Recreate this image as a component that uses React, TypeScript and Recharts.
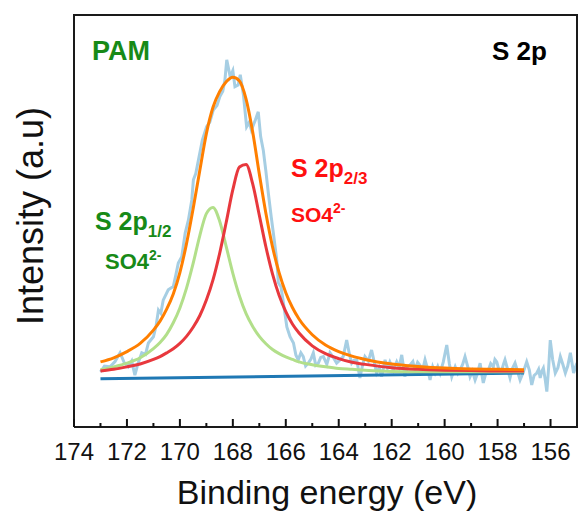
import React from "react";
import { LineChart, Line, XAxis, YAxis } from "recharts";

// raw XPS spectrum (binding energy eV, intensity a.u.)
const rawEnergy = [
  173.0, 172.85, 172.64, 172.45, 172.26, 172.1, 171.95, 171.82, 171.7, 171.58,
  171.44, 171.3, 171.19, 171.0, 170.9, 170.81, 170.72, 170.63, 170.44, 170.25,
  170.15, 170.06, 169.93, 169.8, 169.68, 169.55, 169.49, 169.4, 169.3, 169.15,
  168.99, 168.87, 168.74, 168.6, 168.49, 168.38, 168.3, 168.23, 168.1, 168.0,
  167.92, 167.8, 167.72, 167.6, 167.48, 167.38, 167.3, 167.15, 167.04, 166.95,
  166.85, 166.75, 166.66, 166.55, 166.47, 166.34, 166.28, 166.18, 166.09, 165.96,
  165.84, 165.71, 165.62, 165.53, 165.43, 165.34, 165.25, 165.15, 165.05, 164.96,
  164.87, 164.77, 164.68, 164.58, 164.45, 164.33, 164.2, 164.08, 163.95, 163.83,
  163.7, 163.6, 163.51, 163.42, 163.32, 163.2, 163.1, 163.01, 162.88, 162.76,
  162.66, 162.57, 162.47, 162.38, 162.25, 162.16, 162.07, 161.94, 161.81, 161.72,
  161.62, 161.5, 161.4, 161.31, 161.2, 161.12, 161.02, 160.93, 160.84, 160.74,
  160.64, 160.55, 160.45, 160.36, 160.26, 160.17, 160.05, 159.92, 159.82, 159.73,
  159.6, 159.5, 159.42, 159.32, 159.23, 159.12, 159.04, 158.95, 158.85, 158.76,
  158.66, 158.6, 158.54, 158.45, 158.35, 158.26, 158.16, 158.1, 158.03, 157.93,
  157.84, 157.78, 157.72, 157.62, 157.53, 157.44, 157.34, 157.25, 157.15, 157.03,
  156.9, 156.8, 156.71, 156.62, 156.52, 156.45, 156.39, 156.33, 156.27, 156.2,
  156.14, 156.07, 156.01, 155.92, 155.82, 155.72, 155.63, 155.53, 155.44, 155.35,
  155.25, 155.19, 155.13, 155.06, 155.0,
];
const rawIntensity = [
  13.4, 14.8, 14.6, 15.9, 18.0, 15.6, 14.6, 16.0, 12.6, 15.5,
  18.0, 17.6, 20.4, 21.9, 24.5, 28.4, 27.6, 30.8, 33.3, 34.1,
  37.0, 39.8, 41.3, 47.1, 50.2, 55.1, 60.0, 61.5, 64.8, 69.7,
  72.9, 74.0, 76.9, 78.0, 80.2, 81.5, 84.2, 89.1, 85.0, 86.5,
  82.6, 83.0, 85.5, 80.6, 72.9, 74.0, 72.1, 74.5, 76.5, 70.5,
  67.2, 62.0, 56.8, 51.0, 47.1, 40.5, 35.0, 34.0, 30.1, 24.3,
  21.9, 20.4, 17.5, 16.3, 18.0, 17.1, 14.8, 15.5, 16.5, 18.0,
  15.0, 15.5, 16.9, 17.1, 15.2, 18.0, 16.8, 15.5, 16.3, 17.1,
  21.1, 17.8, 15.5, 16.2, 16.3, 11.9, 15.0, 17.1, 16.0, 18.7,
  15.8, 13.1, 14.4, 12.2, 16.3, 14.3, 15.8, 13.8, 15.8, 14.5,
  17.5, 12.2, 14.8, 15.0, 15.9, 13.8, 15.7, 15.0, 13.6, 16.3,
  14.0, 11.4, 14.6, 13.1, 14.7, 13.1, 15.8, 19.9, 15.3, 12.2,
  14.6, 13.0, 13.8, 15.2, 17.1, 14.5, 12.2, 13.5, 11.4, 13.0,
  15.5, 13.0, 10.7, 12.9, 13.8, 15.4, 14.6, 16.4, 15.8, 13.4,
  13.8, 15.2, 16.3, 14.0, 11.9, 14.2, 15.5, 13.6, 11.4, 13.3,
  15.8, 13.8, 10.2, 12.5, 13.1, 14.0, 11.9, 13.5, 14.3, 11.5,
  8.6, 14.5, 21.1, 16.4, 13.1, 14.4, 17.1, 15.1, 13.1, 14.8,
  18.0, 15.6, 13.1, 14.5, 15.5,
];

// fitted components
const fitEnergy = [
  173, 172.5, 172, 171.5, 171, 170.75, 170.5, 170.25, 170, 169.75,
  169.5, 169.25, 169, 168.75, 168.5, 168.25, 168, 167.75, 167.5, 167.25,
  167, 166.75, 166.5, 166.25, 166, 165.75, 165.5, 165, 164.5, 164,
  163.5, 163, 162, 161, 160, 159, 158, 157,
];
const peakHalf = [
  13.9, 14.6, 15.5, 16.8, 19.0, 20.5, 22.5, 25.3, 28.9, 33.7,
  39.7, 46.4, 51.8, 53.3, 50.0, 43.8, 37.3, 31.8, 27.5, 24.4,
  22.0, 20.2, 18.8, 17.8, 17.0, 16.4, 15.8, 15.1, 14.6, 14.2,
  14.0, 13.8, 13.5, 13.4, 13.4, 13.4, 13.4, 13.4,
];
const peakThreeHalf = [
  13.6, 14.0, 14.6, 15.3, 16.4, 17.1, 18.0, 19.0, 20.3, 22.0,
  24.2, 27.0, 30.8, 35.7, 42.1, 49.7, 57.6, 63.1, 63.7, 59.0,
  51.4, 43.7, 37.1, 31.9, 28.0, 25.0, 22.8, 19.7, 17.8, 16.6,
  15.7, 15.2, 14.4, 14.0, 13.8, 13.7, 13.6, 13.6,
];
const envelope = [
  15.8, 16.8, 18.3, 20.3, 23.5, 25.7, 28.6, 32.3, 37.5, 44.5,
  53.0, 62.2, 71.2, 77.6, 81.4, 83.8, 84.9, 84.0, 79.6, 71.6,
  61.4, 51.8, 43.7, 37.4, 32.6, 29.0, 26.2, 22.4, 19.9, 18.3,
  17.2, 16.4, 15.3, 14.7, 14.3, 14.1, 14.0, 13.9,
];
const bgEnergy = [173, 157];
const bgIntensity = [11.7, 13.1];

const majorTicks = [174, 172, 170, 168, 166, 164, 162, 160, 158, 156];
const minorTicks = [173, 171, 169, 167, 165, 163, 161, 159, 157, 155];

const rawData = rawEnergy.map((x, i) => ({ x, y: rawIntensity[i] }));
const fitData = fitEnergy.map((x, i) => ({
  x,
  half: peakHalf[i],
  threeHalf: peakThreeHalf[i],
  env: envelope[i],
}));
const bgData = bgEnergy.map((x, i) => ({ x, y: bgIntensity[i] }));

const FONT = "'Liberation Sans', Arial, sans-serif";
const FRAME = { stroke: "#1a1a1a", strokeWidth: 2 };

const AxisTick = ({ x, y, payload }: any) => {
  const major = majorTicks.includes(payload.value);
  return (
    <g>
      <line x1={x} x2={x} y1={y} y2={y - (major ? 8 : 4)} stroke="#111" strokeWidth={2} />
      {major && (
        <text x={x} y={y + 33} textAnchor="middle" fontSize={24} fontFamily={FONT} fill="#111">
          {payload.value}
        </text>
      )}
    </g>
  );
};

const label = (style: React.CSSProperties, children: React.ReactNode) => (
  <div
    style={{
      position: "absolute",
      whiteSpace: "nowrap",
      fontFamily: FONT,
      fontWeight: 700,
      lineHeight: 1,
      ...style,
    }}
  >
    {children}
  </div>
);

export default function App() {
  const green = "#178a17";
  const red = "#ff1010";
  return (
    <div style={{ position: "relative", width: 579, height: 512, overflow: "hidden" }}>
      <style>{"html, body { margin: 0; padding: 0; overflow: hidden; }"}</style>
      <LineChart width={579} height={512} margin={{ top: 14, right: 1, left: 73, bottom: 0 }}>
        <XAxis
          type="number"
          dataKey="x"
          domain={[155, 174]}
          reversed
          allowDataOverflow
          ticks={[...majorTicks, ...minorTicks].sort((a, b) => b - a)}
          interval={0}
          height={85}
          axisLine={FRAME}
          tickLine={false}
          tickSize={0}
          tickMargin={0}
          tick={<AxisTick />}
        />
        <XAxis xAxisId="top" orientation="top" type="number" domain={[155, 174]} reversed
          height={1} tick={false} tickLine={false} axisLine={FRAME} />
        <YAxis domain={[0, 100]} allowDataOverflow width={1} tick={false} tickLine={false} axisLine={FRAME} />
        <YAxis yAxisId="right" orientation="right" domain={[0, 100]} width={1}
          tick={false} tickLine={false} axisLine={FRAME} />
        <Line data={rawData} dataKey="y" type="linear" stroke="#a6cee3" strokeWidth={3}
          dot={false} activeDot={false} isAnimationActive={false} />
        <Line data={bgData} dataKey="y" type="linear" stroke="#1f78b4" strokeWidth={3}
          dot={false} activeDot={false} isAnimationActive={false} />
        <Line data={fitData} dataKey="half" type="monotone" stroke="#b2df8a" strokeWidth={3}
          dot={false} activeDot={false} isAnimationActive={false} />
        <Line data={fitData} dataKey="threeHalf" type="monotone" stroke="#e8383d" strokeWidth={3}
          dot={false} activeDot={false} isAnimationActive={false} />
        <Line data={fitData} dataKey="env" type="monotone" stroke="#ff7f00" strokeWidth={3}
          dot={false} activeDot={false} isAnimationActive={false} />
      </LineChart>

      {/* top and right edges of the plot frame */}
      <div style={{ position: "absolute", left: 73, top: 14, width: 505, height: 2,
        background: "#1a1a1a", zIndex: 10, pointerEvents: "none" }} />
      <div style={{ position: "absolute", left: 576, top: 14, width: 2, height: 414,
        background: "#1a1a1a", zIndex: 10, pointerEvents: "none" }} />

      {label({ left: 92, top: 38, fontSize: 27, color: green }, "PAM")}
      {label({ left: 492, top: 38, fontSize: 26, color: "#000" }, "S 2p")}
      {label({ left: 291, top: 156, fontSize: 25, color: red }, (
        <>S 2p<sub style={{ fontSize: 17, verticalAlign: -7 }}>2/3</sub></>
      ))}
      {label({ left: 291, top: 201, fontSize: 21, color: red }, (
        <>SO4<sup style={{ fontSize: 14, verticalAlign: 9 }}>2-</sup></>
      ))}
      {label({ left: 95, top: 209, fontSize: 25, color: green }, (
        <>S 2p<sub style={{ fontSize: 17, verticalAlign: -7 }}>1/2</sub></>
      ))}
      {label({ left: 105, top: 248, fontSize: 22, color: green }, (
        <>SO4<sup style={{ fontSize: 14, verticalAlign: 9 }}>2-</sup></>
      ))}

      <div
        style={{
          position: "absolute",
          left: 327,
          top: 475,
          transform: "translateX(-50%)",
          fontFamily: FONT,
          fontSize: 34,
          lineHeight: 1,
          whiteSpace: "nowrap",
          color: "#111",
        }}
      >
        Binding energy (eV)
      </div>
      <div
        style={{
          position: "absolute",
          left: 31,
          top: 216,
          transform: "translate(-50%, -50%) rotate(-90deg)",
          fontFamily: FONT,
          fontSize: 36,
          lineHeight: 1,
          whiteSpace: "nowrap",
          color: "#111",
        }}
      >
        Intensity (a.u)
      </div>
    </div>
  );
}
